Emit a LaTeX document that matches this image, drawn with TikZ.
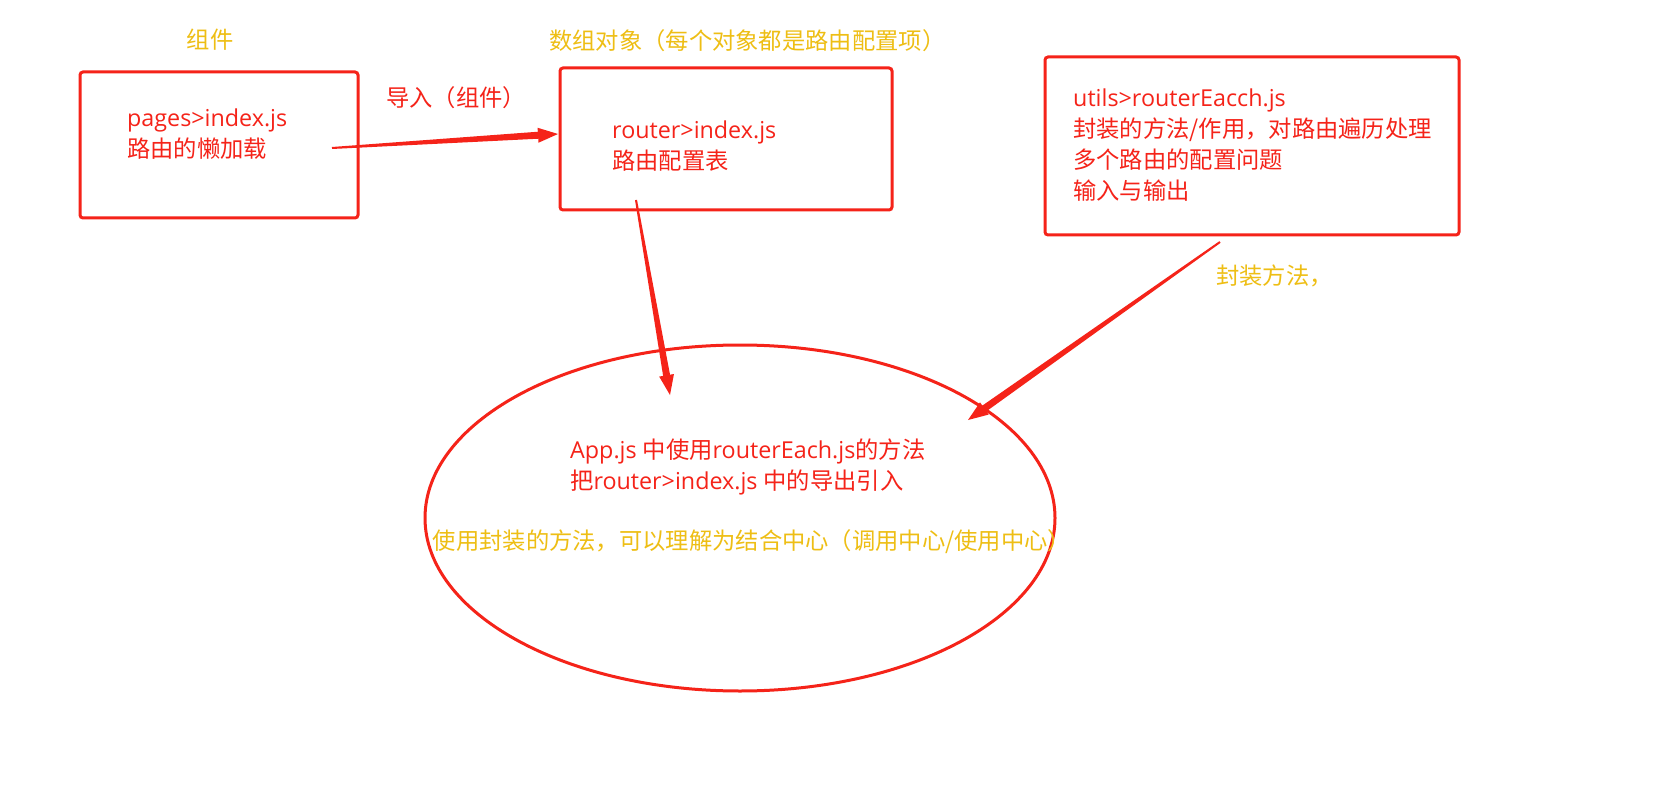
\documentclass[tikz,border=0pt]{standalone}
\usepackage{fontspec}
\setmainfont{Noto Sans CJK SC}
\newfontfamily\lat{Open Sans}
\usetikzlibrary{calc,shapes.geometric}
\definecolor{rd}{RGB}{245,35,25}
\definecolor{gd}{RGB}{238,190,20}
\newcommand\taperarrow[2]{%
  \fill[rd] ($(#1)!1pt!90:(#2)$) -- ($($(#2)!20pt!(#1)$)!3.5pt!-90:(#1)$) -- ($($(#2)!20pt!(#1)$)!7.5pt!-90:(#1)$) -- (#2)
   -- ($($(#2)!20pt!(#1)$)!7.5pt!90:(#1)$) -- ($($(#2)!20pt!(#1)$)!3.5pt!90:(#1)$) -- ($(#1)!1pt!-90:(#2)$) -- cycle;}
\begin{document}
\begin{tikzpicture}[x=1pt,y=-1pt,
  box/.style={draw=rd,line width=3pt,rounded corners=3pt,inner sep=0pt},
  rtxt/.style={text=rd,font=\fontsize{23.3}{31}\selectfont,align=left,inner sep=0pt},
  gtxt/.style={text=gd,font=\fontsize{23.3}{31}\selectfont,inner sep=0pt}]
\useasboundingbox[fill=white] (0,0) rectangle (1653,799);
% titles
\node[gtxt] (t1) at (210,40) {组件};
\node[gtxt,anchor=west] (t2) at (549,41) {数组对象（每个对象都是路由配置项）};
% boxes
\node[box,minimum width=278pt,minimum height=146pt] (b1) at (219,145) {};
\node[box,minimum width=332pt,minimum height=142pt] (b2) at (726,139) {};
\node[box,minimum width=414pt,minimum height=178pt] (b3) at (1252,146) {};
\node[draw=rd,line width=3pt,ellipse,inner sep=0pt,minimum width=630pt,minimum height=346pt] (app) at (740,518) {};
% box texts
\node[rtxt,anchor=west] (l1) at (127,134) {{\lat pages>index.js}\\路由的懒加载};
\node[rtxt,anchor=west] (l2) at (612,146) {{\lat router>index.js}\\路由配置表};
\node[rtxt,anchor=west] (l3) at (1073,145) {{\lat utils>routerEacch.js}\\封装的方法/作用，对路由遍历处理\\多个路由的配置问题\\输入与输出};
\node[rtxt,anchor=west] (l4) at (570,467) {{\lat App.js }中使用{\lat routerEach.js}的方法\\把{\lat router>index.js }中的导出引入};
\node[gtxt] (l5) at (752,542) {使用封装的方法，可以理解为结合中心（调用中心/使用中心）};
% edge labels
\node[rtxt,anchor=west] (e1) at (386,98) {导入（组件）};
\node[gtxt,anchor=west] (e3) at (1216,276) {封装方法，};
% arrows
\coordinate (a1s) at (332,148);
\coordinate (a1e) at (558,134);
\coordinate (a2s) at (636,200);
\coordinate (a2e) at (670,395);
\coordinate (a3s) at (1220,242);
\coordinate (a3e) at (968,420);
\taperarrow{a1s}{a1e}
\taperarrow{a2s}{a2e}
\taperarrow{a3s}{a3e}
\end{tikzpicture}
\end{document}
